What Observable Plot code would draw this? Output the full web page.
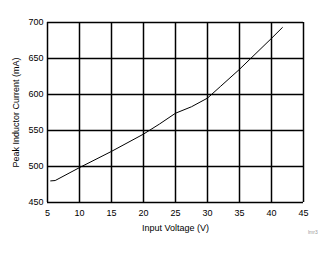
<!DOCTYPE html>
<html>
<head>
<meta charset="utf-8">
<script src="https://cdn.jsdelivr.net/npm/d3@7"></script>
<script src="https://cdn.jsdelivr.net/npm/@observablehq/plot@0.6"></script>
<style>
  html, body { margin: 0; padding: 0; background: #fff; }
  #chart { position: relative; width: 335px; height: 254px; }
  #note { position: absolute; left: 308px; top: 229px; font: 5px "Liberation Sans", Arial, sans-serif; color: #999; }
</style>
</head>
<body>
<div id="chart"></div>
<script>
const inputVoltage = [5.5, 6.2, 10, 15, 20, 22.5, 25, 27.5, 30, 32, 35, 40, 41.7];
const peakCurrent = [480, 480.5, 498.5, 521, 545, 559, 574, 583, 595, 611, 635, 678, 693];
const xTicks = [5, 10, 15, 20, 25, 30, 35, 40, 45];
const yTicks = [450, 500, 550, 600, 650, 700];
const xLabel = "Input Voltage (V)";
const yLabel = "Peak Inductor Current (mA)";
const note = "lmr3";

const data = inputVoltage.map((v, i) => ({x: v, y: peakCurrent[i]}));

const chart = Plot.plot({
  width: 335,
  height: 254,
  marginLeft: 47,
  marginRight: 32,
  marginTop: 22,
  marginBottom: 52,
  style: {fontFamily: "'Liberation Sans', Arial, sans-serif", fontSize: "9px", color: "#000", background: "#fff"},
  x: {domain: [5, 45], ticks: xTicks, tickSize: 0, tickPadding: 7, label: xLabel, labelArrow: "none", labelAnchor: "center", labelOffset: 28},
  y: {domain: [450, 700], ticks: yTicks, tickSize: 0, tickPadding: 4, label: yLabel, labelArrow: "none", labelAnchor: "center", labelOffset: 35},
  marks: [
    Plot.ruleX(xTicks, {stroke: "#000", strokeWidth: 1.5}),
    Plot.ruleY(yTicks, {stroke: "#000", strokeWidth: 1.5}),
    Plot.line(data, {x: "x", y: "y", stroke: "#000", strokeWidth: 1})
  ]
});
document.getElementById("chart").appendChild(chart);
const n = document.createElement("div");
n.id = "note";
n.textContent = note;
document.getElementById("chart").appendChild(n);
</script>
</body>
</html>
